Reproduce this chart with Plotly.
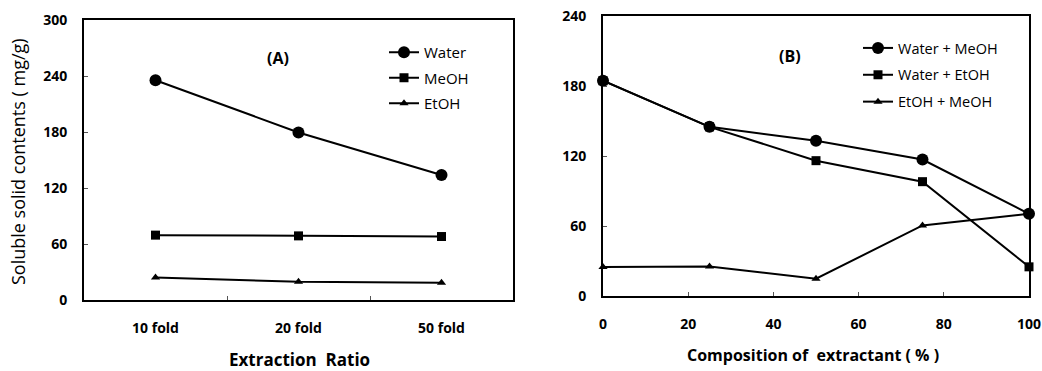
import plotly.graph_objects as go

# ---- data ----
ratio_cats = ["10 fold", "20 fold", "50 fold"]
water = [235.5, 179.5, 134]
meoh = [69.5, 68.7, 68]
etoh = [24, 19.6, 18.6]

composition = [0, 25, 50, 75, 100]
water_meoh = [184.5, 145, 133, 117, 70.5]
water_etoh = [184.5, 145, 116, 98, 25]
etoh_meoh = [24.8, 25.2, 14.8, 60.5, 70.5]

FONT = "Open Sans"
fig = go.Figure()

def add(x, y, name, symbol, size, xa, ya, legend):
    fig.add_trace(go.Scatter(
        x=x, y=y, name=name, mode="lines+markers",
        line=dict(color="black", width=2),
        marker=dict(symbol=symbol, size=size, color="black"),
        xaxis=xa, yaxis=ya, legend=legend, legendgroup=name,
        cliponaxis=False))

add(ratio_cats, water, "Water", "circle", 12, "x", "y", "legend")
add(ratio_cats, meoh, "MeOH", "square", 9, "x", "y", "legend")
add(ratio_cats, etoh, "EtOH", "triangle-up", 8, "x", "y", "legend")
add(composition, water_meoh, "Water + MeOH", "circle", 12, "x2", "y2", "legend2")
add(composition, water_etoh, "Water + EtOH", "square", 9, "x2", "y2", "legend2")
add(composition, etoh_meoh, "EtOH + MeOH", "triangle-up", 8, "x2", "y2", "legend2")

W, H = 1042, 371
def px(x): return x / W
def py(y): return (H - y) / H

tickfont = dict(family=FONT, size=14, color="black", weight="bold")
axis_common = dict(showline=True, linecolor="black", linewidth=2, mirror=True,
                   ticks="inside", tickcolor="#555", ticklen=4, tickwidth=1,
                   showgrid=False, zeroline=False, tickfont=tickfont,
                   automargin=False)

def ann(text, x, y, size, bold=True, angle=0):
    f = dict(family=FONT, size=size, color="black")
    if bold:
        f["weight"] = "bold"
    return dict(text=text, x=px(x), y=py(y), xref="paper", yref="paper",
                xanchor="center", yanchor="middle", textangle=angle,
                showarrow=False, font=f)

fig.update_layout(
    width=W, height=H, margin=dict(l=0, r=0, t=0, b=0, pad=0),
    paper_bgcolor="white", plot_bgcolor="white",
    font=dict(family=FONT, color="black"),
    xaxis=dict(domain=[px(84), px(513)], type="category", range=[-0.5, 2.5],
               tickson="boundaries", anchor="y", ticklabelstandoff=14, **axis_common),
    yaxis=dict(domain=[py(300), py(20)], range=[0, 300], dtick=60, anchor="x",
               ticklabelstandoff=12, **axis_common),
    xaxis2=dict(domain=[px(603), px(1029)], range=[0, 100], dtick=20, anchor="y2",
                ticklabelstandoff=14, **axis_common),
    yaxis2=dict(domain=[py(296), py(16)], range=[0, 240], dtick=60, anchor="x2",
                ticklabelstandoff=12, **axis_common),
    legend=dict(x=px(384), y=py(36), xanchor="left", yanchor="top",
                font=dict(family=FONT, size=15, color="black"),
                bgcolor="rgba(0,0,0,0)", tracegroupgap=3, itemwidth=30),
    legend2=dict(x=px(858), y=py(32), xanchor="left", yanchor="top",
                 font=dict(family=FONT, size=14.5, color="black"),
                 bgcolor="rgba(0,0,0,0)", tracegroupgap=5, itemwidth=30),
    annotations=[
        ann("(A)", 278, 58, 16),
        ann("(B)", 790, 56, 16),
        ann("Soluble solid contents ( mg/g)", 18, 162, 18, bold=False, angle=-90),
        ann("Extraction&nbsp;&nbsp;Ratio", 299, 359, 17),
        ann("Composition of&nbsp; extractant ( % )", 813, 355, 16),
    ],
)

fig.write_html("out.html", config={"displayModeBar": False},
               post_script="document.body.style.margin='0';document.body.style.padding='0';")
